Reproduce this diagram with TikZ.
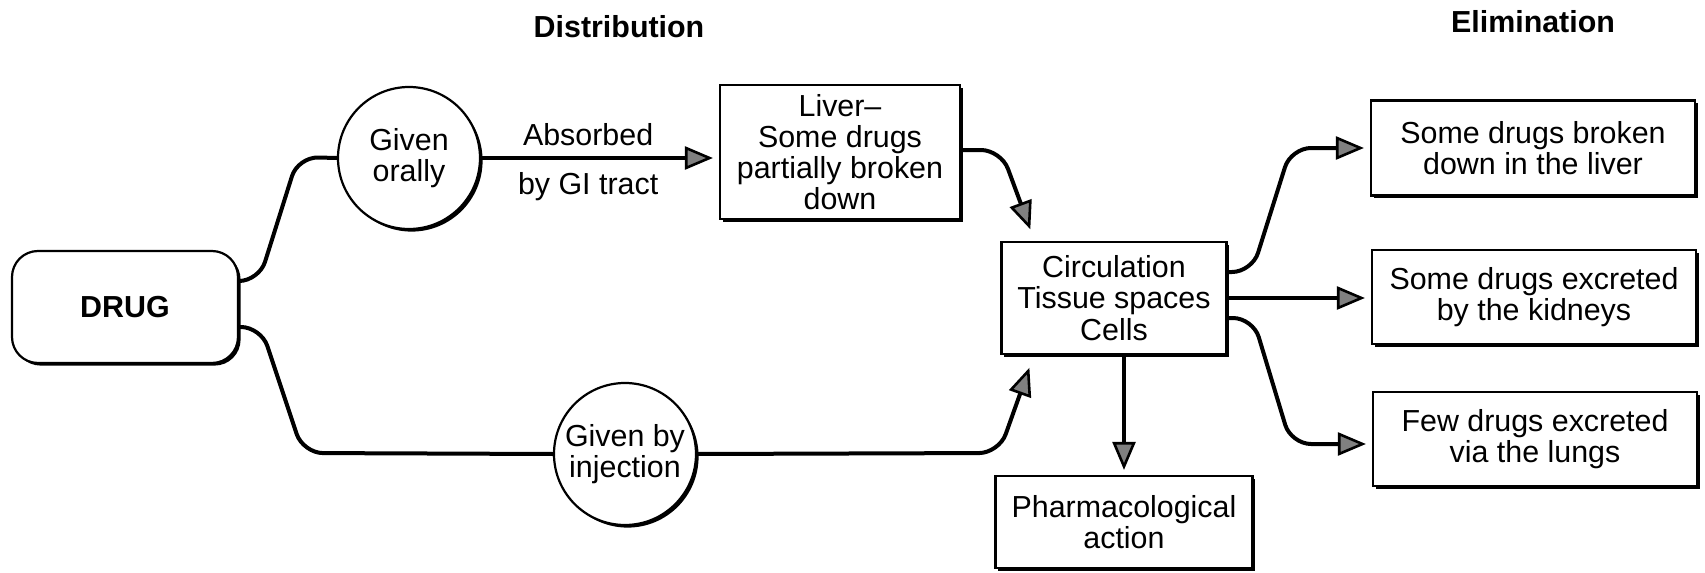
\documentclass[tikz,border=0pt]{standalone}
\usepackage{fontspec}
\setmainfont{Liberation Sans}
\usetikzlibrary{arrows.meta,shadows,calc}
\begin{document}
\begin{tikzpicture}[x=0.5pt,y=-0.5pt,
  every node/.style={font=\fontsize{15.2}{15.6}\selectfont, inner sep=0pt},
  shade/.style={drop shadow={shadow xshift=1.3pt, shadow yshift=-1.3pt, fill=black, opacity=1}},
  box/.style={draw, line width=1.1pt, fill=white, align=center, shade},
  rbox/.style={box, rounded corners=13pt},
  roundnode/.style={box, circle},
  title/.style={font=\fontsize{15.2}{15.6}\selectfont\bfseries},
  conn/.style={line width=2pt, rounded corners=10pt},
  arr/.style={conn, shorten >=3pt, -{Triangle[length=14pt,width=11.5pt,fill=black!50,line width=1.3pt]}}
]
\useasboundingbox (0,0) rectangle (1705,573);

\node[title] (tdist) at (619,27) {Distribution};
\node[title] (telim) at (1533,22) {Elimination};

\node[rbox, minimum width=113pt, minimum height=56pt] (drug) at (125,307) {\bfseries DRUG};
\node[roundnode, minimum size=71pt] (oral) at (409,158) {Given\\orally};
\node[roundnode, minimum size=71pt] (inj) at (625,454) {Given by\\injection};
\node[box, minimum width=120pt, minimum height=67pt] (liver) at (840,152) {Liver--\\Some drugs\\partially broken\\down};
\node[box, minimum width=112.5pt, minimum height=56pt] (circ) at (1114,298) {Circulation\\Tissue spaces\\Cells};
\node[box, minimum width=128.5pt, minimum height=46pt] (pharm) at (1124,522) {Pharmacological\\action};
\node[box, minimum width=162pt, minimum height=47.5pt] (e1) at (1533,148) {Some drugs broken\\down in the liver};
\node[box, minimum width=162pt, minimum height=47pt] (e2) at (1534,297) {Some drugs excreted\\by the kidneys};
\node[box, minimum width=162pt, minimum height=47pt] (e3) at (1535,439) {Few drugs excreted\\via the lungs};

\draw[conn] ($(drug.east)+(0,-26)$) -- (259,281) -- (298,157) -- (oral.west);
\draw[conn] ($(drug.east)+(0,20)$) -- (261,327) -- (303,453) -- (inj.west);

\draw[arr] (oral.east) -- node[pos=0.45, anchor=south, inner sep=5pt] {Absorbed}
  node[pos=0.45, anchor=north, inner sep=6pt] {by GI tract} (oral.east -| liver.west);

\draw[arr] ($(liver.east)+(0,-2)$) -- (1001,150) -- ($(circ.north west)+(32,-6)$);
\draw[arr] (inj.east) -- (999,453) -- ($(circ.south west)+(31,7)$);
\draw[arr, shorten >=2.5pt] (circ.south -| pharm.north) -- (pharm.north);

\draw[arr] ($(circ.east)+(0,-26)$) -- (1252,272) -- (1291,148) -- (e1.west);
\draw[arr] (circ.east) -- (circ.east -| e2.west);
\draw[arr] ($(circ.east)+(0,20)$) -- (1253,318) -- (1291,444) -- ($(e3.west)+(0,5)$);
\end{tikzpicture}
\end{document}
